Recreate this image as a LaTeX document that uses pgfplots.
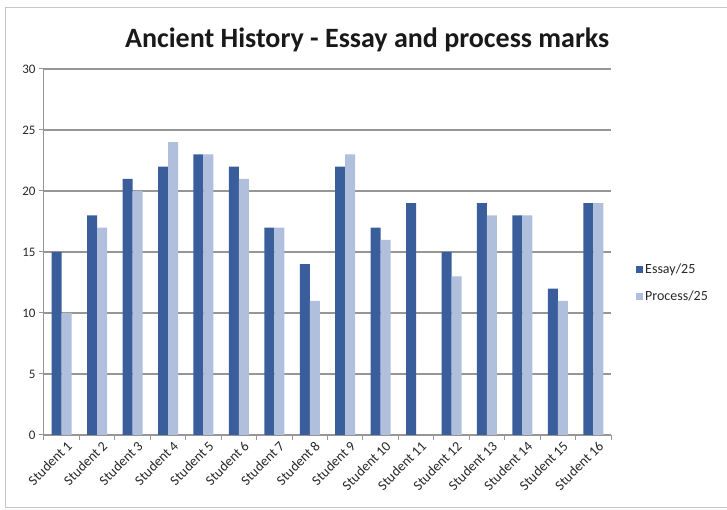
\documentclass[border=0pt]{standalone}
\usepackage{pgfplots}
\pgfplotsset{compat=1.18}
\usepackage{fontspec}
\setmainfont{Carlito}
\definecolor{essay}{RGB}{58,94,156}
\definecolor{process}{RGB}{176,191,220}
\definecolor{gridc}{RGB}{150,150,150}
\definecolor{txt}{RGB}{40,40,40}
\begin{document}
\begin{tikzpicture}[x=1pt,y=1pt]
\useasboundingbox (-44,-75) rectangle (683,435);
\draw[gray!45, line width=1pt] (-38,-73) -- (-38,427) -- (690,427);
\draw[gray!45, line width=1pt] (-38,-73) -- (690,-73);
\begin{axis}[
  at={(0,0)}, anchor=origin,
  scale only axis, width=567pt, height=366pt,
  ymin=0, ymax=30, ytick={0,5,...,30},
  xmin=0.5, xmax=16.5,
  xtick={1,...,16},
  xticklabels={Student 1,Student 2,Student 3,Student 4,Student 5,Student 6,Student 7,Student 8,Student 9,Student 10,Student 11,Student 12,Student 13,Student 14,Student 15,Student 16},
  minor xtick={0.5,1.5,...,16.5},
  x tick label style={rotate=45, anchor=north east, font=\fontsize{14}{16}\selectfont, text=txt, inner sep=1pt, xshift=4pt, yshift=-2pt},
  y tick label style={font=\fontsize{13}{15}\selectfont, text=txt},
  /pgf/number format/assume math mode=true,
  major x tick style={draw=none},
  minor x tick style={gridc, line width=1pt},
  minor tick length=5pt,
  ytick style={gridc, line width=1pt},
  major tick length=5pt,
  tick align=outside,
  tick pos=left,
  ymajorgrids,
  grid style={gridc, line width=1.2pt},
  axis x line*=bottom, axis y line*=left,
  axis line style={gridc, line width=1pt},
  ybar=0pt, bar width=10pt,
  title={\bfseries Ancient History - Essay and process marks},
  title style={font=\fontsize{28}{32}\selectfont\bfseries, text=black!90, at={(0.57,1)}, anchor=base, yshift=15pt},
  legend style={at={(1,0.415)}, anchor=west, xshift=22pt, draw=none, fill=none, font=\fontsize{14}{16}\selectfont, text=txt, row sep=12pt},
  legend image code/.code={\draw[#1, draw=none] (0pt,-3.5pt) rectangle (7pt,3.5pt);},
  legend cell align=left,
]
\addplot[fill=essay, draw=none] coordinates {
(1,15) (2,18) (3,21) (4,22) (5,23) (6,22) (7,17) (8,14) (9,22) (10,17) (11,19) (12,15) (13,19) (14,18) (15,12) (16,19)};
\addplot[fill=process, draw=none] coordinates {
(1,10) (2,17) (3,20) (4,24) (5,23) (6,21) (7,17) (8,11) (9,23) (10,16) (12,13) (13,18) (14,18) (15,11) (16,19)};
\legend{Essay/25,Process/25}
\end{axis}
\end{tikzpicture}
\end{document}
